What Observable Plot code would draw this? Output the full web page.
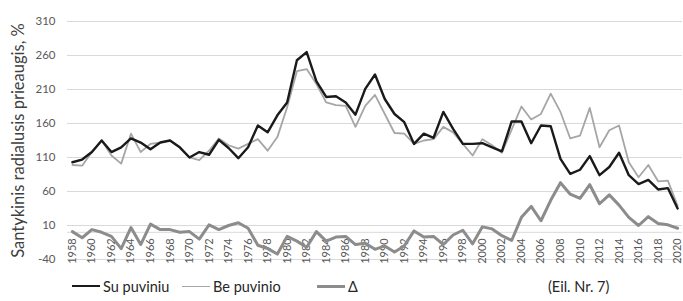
<!DOCTYPE html>
<html><head><meta charset="utf-8">
<script src="https://cdn.jsdelivr.net/npm/d3@7"></script>
<script src="https://cdn.jsdelivr.net/npm/@observablehq/plot@0.6"></script>
<style>
body{margin:0;background:#fff;font-family:Lato,"Open Sans",sans-serif;}
#wrap{position:relative;width:683px;height:301px;overflow:hidden;}
#legend{position:absolute;left:0;top:272px;width:683px;height:29px;}
.item{position:absolute;top:6px;height:16px;display:flex;align-items:center;font-size:14.5px;color:#262626;white-space:nowrap;}
.sw{display:inline-block;width:28px;margin-right:3px;}
</style></head><body><div id="wrap"><div id="chart"></div><div id="legend"></div></div>
<script>
const years = [1958,1959,1960,1961,1962,1963,1964,1965,1966,1967,1968,1969,1970,1971,1972,1973,1974,1975,1976,1977,1978,1979,1980,1981,1982,1983,1984,1985,1986,1987,1988,1989,1990,1991,1992,1993,1994,1995,1996,1997,1998,1999,2000,2001,2002,2003,2004,2005,2006,2007,2008,2009,2010,2011,2012,2013,2014,2015,2016,2017,2018,2019,2020];
const suPuviniu = [103,107,118,135,118,125,138,132,122,132,135,125,110,118,114,136,124,109,125,157,147,172,191,253,265,222,199,200,191,173,211,232,196,174,162,130,145,139,177,152,130,130,131,125,119,163,163,131,157,156,108,86,92,112,84,96,117,84,71,77,63,65,35];
const bePuvinio = [99,98,118,135,113,101,145,118,130,132,135,125,110,106,120,138,128,123,130,137,120,140,184,237,240,218,191,187,186,155,186,202,174,146,145,130,135,137,155,147,130,113,137,128,117,151,185,166,174,204,177,138,142,183,125,150,157,103,81,99,75,76,39];
const delta = [1,-8,4,0,-6,-24,7,-18,12,4,4,0,1,-10,11,4,10,14,6,-19,-24,-32,-6,-13,-22,1,-13,-7,-6,-18,-16,-25,-20,-29,-20,2,-7,-6,-18,-4,3,-17,8,5,-5,-12,22,38,17,47,73,56,50,70,42,55,40,22,10,23,13,11,6];
const yTicks = [-40,10,60,110,160,210,260,310];
const xTickYears = [1958,1960,1962,1964,1966,1968,1970,1972,1974,1976,1978,1980,1982,1984,1986,1988,1990,1992,1994,1996,1998,2000,2002,2004,2006,2008,2010,2012,2014,2016,2018,2020];
const yTitle = "Santykinis radialusis prieaugis, %";
const series = [
  {name: "Su puviniu", color: "#1a1a1a", width: 2.4},
  {name: "Be puvinio", color: "#a6a6a6", width: 1.8},
  {name: "Δ", color: "#8c8c8c", width: 3}
];
const note = "(Eil. Nr. 7)";

const chart = Plot.plot({
  width: 683, height: 272,
  marginLeft: 67, marginRight: 1, marginTop: 21, marginBottom: 13,
  x: {domain: [1957.5, 2020.5], axis: null},
  y: {domain: [-40, 310], axis: null},
  style: {fontFamily: "Lato, 'Open Sans', sans-serif", background: "white", overflow: "visible"},
  marks: [
    Plot.ruleY(yTicks, {stroke: "#d9d9d9", strokeWidth: 1}),
    Plot.ruleY([0], {stroke: "#d9d9d9", strokeWidth: 1}),
    Plot.text(yTicks, {x: 1957.5, y: d => d, text: d => String(d), textAnchor: "end", dx: -12, fill: "#595959", fontSize: 11.5}),
    Plot.text(xTickYears, {x: d => d, y: () => 0, text: d => String(d), rotate: -90, textAnchor: "end", dy: 6, fill: "#595959", fontSize: 11}),
    Plot.text([yTitle], {frameAnchor: "left", text: d => d, rotate: -90, textAnchor: "middle", dx: -49, fill: "#404040", fontSize: 16.5}),
    Plot.line(years, {x: years, y: delta, stroke: series[2].color, strokeWidth: series[2].width, strokeLinejoin: "round"}),
    Plot.line(years, {x: years, y: bePuvinio, stroke: series[1].color, strokeWidth: series[1].width, strokeLinejoin: "round"}),
    Plot.line(years, {x: years, y: suPuviniu, stroke: series[0].color, strokeWidth: series[0].width, strokeLinejoin: "round"})
  ]
});
document.getElementById("chart").appendChild(chart);

const legend = document.getElementById("legend");
const lefts = [72, 182, 317];
series.forEach((s, i) => {
  const it = document.createElement("div");
  it.className = "item";
  it.style.left = lefts[i] + "px";
  it.innerHTML = `<span class="sw" style="border-top:${s.width}px solid ${s.color}"></span><span>${s.name}</span>`;
  legend.appendChild(it);
});
const n = document.createElement("div");
n.className = "item";
n.style.left = "548px";
n.textContent = note;
legend.appendChild(n);
</script>
</body></html>
